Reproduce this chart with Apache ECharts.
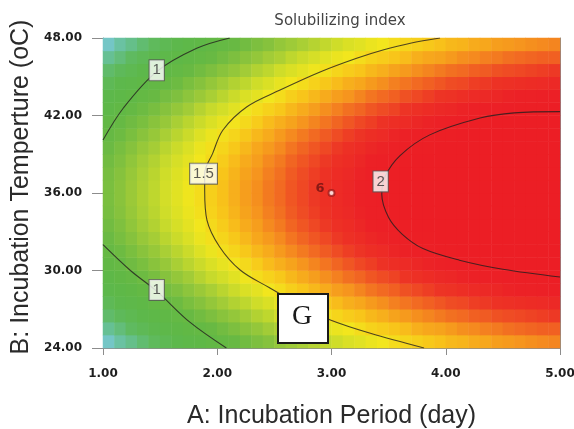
<!DOCTYPE html>
<html>
<head>
<meta charset="utf-8">
<style>
  html, body { margin: 0; padding: 0; background: #fff; }
  #chart { width: 574px; height: 429px; }
</style>
<script src="https://cdn.jsdelivr.net/npm/echarts@6/dist/echarts.min.js"></script>
</head>
<body>
<div id="chart"></div>
<script>
// surface cells: centres in A (day) and B (oC)
const periodCells = [1.05, 1.15, 1.25, 1.35, 1.45, 1.55, 1.65, 1.75, 1.85, 1.95,
                     2.05, 2.15, 2.25, 2.35, 2.45, 2.55, 2.65, 2.75, 2.85, 2.95,
                     3.05, 3.15, 3.25, 3.35, 3.45, 3.55, 3.65, 3.75, 3.85, 3.95,
                     4.05, 4.15, 4.25, 4.35, 4.45, 4.55, 4.65, 4.75, 4.85, 4.95];
const tempCells = [24.5, 25.5, 26.5, 27.5, 28.5, 29.5, 30.5, 31.5, 32.5, 33.5, 34.5, 35.5,
                   36.5, 37.5, 38.5, 39.5, 40.5, 41.5, 42.5, 43.5, 44.5, 45.5, 46.5, 47.5];

const surface = [
  [0.58,0.63,0.67,0.72,0.77,0.81,0.85,0.90,0.94,0.98,1.02,1.05,1.09,1.13,1.16,1.20,1.23,1.26,1.29,1.32,1.35,1.38,1.40,1.43,1.45,1.48,1.50,1.52,1.54,1.56,1.58,1.59,1.61,1.62,1.64,1.65,1.66,1.67,1.68,1.69],
  [0.65,0.70,0.75,0.80,0.84,0.89,0.93,0.97,1.01,1.05,1.09,1.13,1.17,1.20,1.24,1.27,1.31,1.34,1.37,1.40,1.43,1.45,1.48,1.51,1.53,1.55,1.57,1.60,1.62,1.63,1.65,1.67,1.68,1.70,1.71,1.73,1.74,1.75,1.76,1.76],
  [0.73,0.78,0.82,0.87,0.92,0.96,1.00,1.05,1.09,1.13,1.17,1.20,1.24,1.28,1.31,1.35,1.38,1.41,1.44,1.47,1.50,1.53,1.55,1.58,1.60,1.63,1.65,1.67,1.69,1.71,1.73,1.74,1.76,1.77,1.79,1.80,1.81,1.82,1.83,1.84],
  [0.80,0.85,0.89,0.94,0.99,1.03,1.07,1.12,1.16,1.20,1.24,1.28,1.31,1.35,1.38,1.42,1.45,1.48,1.51,1.54,1.57,1.60,1.62,1.65,1.67,1.70,1.72,1.74,1.76,1.78,1.80,1.81,1.83,1.84,1.86,1.87,1.88,1.89,1.90,1.91],
  [0.86,0.91,0.96,1.01,1.05,1.10,1.14,1.18,1.22,1.26,1.30,1.34,1.38,1.41,1.45,1.48,1.52,1.55,1.58,1.61,1.64,1.66,1.69,1.72,1.74,1.76,1.79,1.81,1.83,1.85,1.86,1.88,1.90,1.91,1.92,1.94,1.95,1.96,1.97,1.98],
  [0.92,0.97,1.02,1.07,1.11,1.16,1.20,1.24,1.29,1.33,1.36,1.40,1.44,1.48,1.51,1.54,1.58,1.61,1.64,1.67,1.70,1.73,1.75,1.78,1.80,1.82,1.85,1.87,1.89,1.91,1.92,1.94,1.96,1.97,1.99,2.00,2.01,2.02,2.03,2.04],
  [0.98,1.03,1.08,1.12,1.17,1.21,1.26,1.30,1.34,1.38,1.42,1.46,1.49,1.53,1.57,1.60,1.63,1.66,1.69,1.72,1.75,1.78,1.81,1.83,1.86,1.88,1.90,1.92,1.94,1.96,1.98,2.00,2.01,2.03,2.04,2.05,2.06,2.07,2.08,2.09],
  [1.03,1.07,1.12,1.17,1.21,1.26,1.30,1.34,1.39,1.43,1.47,1.50,1.54,1.58,1.61,1.65,1.68,1.71,1.74,1.77,1.80,1.83,1.85,1.88,1.90,1.93,1.95,1.97,1.99,2.01,2.03,2.04,2.06,2.07,2.09,2.10,2.11,2.12,2.13,2.14],
  [1.06,1.11,1.16,1.21,1.25,1.30,1.34,1.38,1.43,1.47,1.50,1.54,1.58,1.62,1.65,1.68,1.72,1.75,1.78,1.81,1.84,1.87,1.89,1.92,1.94,1.96,1.99,2.01,2.03,2.05,2.06,2.08,2.10,2.11,2.13,2.14,2.15,2.16,2.17,2.18],
  [1.09,1.14,1.19,1.24,1.28,1.33,1.37,1.41,1.45,1.49,1.53,1.57,1.61,1.64,1.68,1.71,1.75,1.78,1.81,1.84,1.87,1.89,1.92,1.95,1.97,1.99,2.02,2.04,2.06,2.08,2.09,2.11,2.13,2.14,2.15,2.17,2.18,2.19,2.20,2.21],
  [1.11,1.16,1.21,1.26,1.30,1.35,1.39,1.43,1.47,1.51,1.55,1.59,1.63,1.66,1.70,1.73,1.77,1.80,1.83,1.86,1.89,1.91,1.94,1.97,1.99,2.01,2.04,2.06,2.08,2.10,2.11,2.13,2.15,2.16,2.17,2.19,2.20,2.21,2.22,2.23],
  [1.12,1.17,1.22,1.27,1.31,1.36,1.40,1.44,1.48,1.52,1.56,1.60,1.64,1.67,1.71,1.74,1.78,1.81,1.84,1.87,1.90,1.92,1.95,1.98,2.00,2.02,2.05,2.07,2.09,2.11,2.12,2.14,2.16,2.17,2.18,2.20,2.21,2.22,2.23,2.24],
  [1.12,1.17,1.22,1.27,1.31,1.36,1.40,1.44,1.48,1.52,1.56,1.60,1.64,1.67,1.71,1.74,1.78,1.81,1.84,1.87,1.90,1.92,1.95,1.98,2.00,2.02,2.05,2.07,2.09,2.11,2.12,2.14,2.16,2.17,2.18,2.20,2.21,2.22,2.23,2.24],
  [1.11,1.16,1.21,1.26,1.30,1.35,1.39,1.43,1.47,1.51,1.55,1.59,1.63,1.66,1.70,1.73,1.77,1.80,1.83,1.86,1.89,1.91,1.94,1.97,1.99,2.01,2.04,2.06,2.08,2.10,2.11,2.13,2.15,2.16,2.17,2.19,2.20,2.21,2.22,2.23],
  [1.09,1.14,1.19,1.24,1.28,1.33,1.37,1.41,1.45,1.49,1.53,1.57,1.61,1.64,1.68,1.71,1.75,1.78,1.81,1.84,1.87,1.89,1.92,1.95,1.97,1.99,2.02,2.04,2.06,2.08,2.09,2.11,2.13,2.14,2.15,2.17,2.18,2.19,2.20,2.21],
  [1.06,1.11,1.16,1.21,1.25,1.30,1.34,1.38,1.43,1.47,1.50,1.54,1.58,1.62,1.65,1.68,1.72,1.75,1.78,1.81,1.84,1.87,1.89,1.92,1.94,1.96,1.99,2.01,2.03,2.05,2.06,2.08,2.10,2.11,2.13,2.14,2.15,2.16,2.17,2.18],
  [1.03,1.07,1.12,1.17,1.21,1.26,1.30,1.34,1.39,1.43,1.47,1.50,1.54,1.58,1.61,1.65,1.68,1.71,1.74,1.77,1.80,1.83,1.85,1.88,1.90,1.93,1.95,1.97,1.99,2.01,2.03,2.04,2.06,2.07,2.09,2.10,2.11,2.12,2.13,2.14],
  [0.98,1.03,1.08,1.12,1.17,1.21,1.26,1.30,1.34,1.38,1.42,1.46,1.49,1.53,1.57,1.60,1.63,1.66,1.69,1.72,1.75,1.78,1.81,1.83,1.86,1.88,1.90,1.92,1.94,1.96,1.98,2.00,2.01,2.03,2.04,2.05,2.06,2.07,2.08,2.09],
  [0.92,0.97,1.02,1.07,1.11,1.16,1.20,1.24,1.29,1.33,1.36,1.40,1.44,1.48,1.51,1.54,1.58,1.61,1.64,1.67,1.70,1.73,1.75,1.78,1.80,1.82,1.85,1.87,1.89,1.91,1.92,1.94,1.96,1.97,1.99,2.00,2.01,2.02,2.03,2.04],
  [0.86,0.91,0.96,1.01,1.05,1.10,1.14,1.18,1.22,1.26,1.30,1.34,1.38,1.41,1.45,1.48,1.52,1.55,1.58,1.61,1.64,1.66,1.69,1.72,1.74,1.76,1.79,1.81,1.83,1.85,1.86,1.88,1.90,1.91,1.92,1.94,1.95,1.96,1.97,1.98],
  [0.80,0.85,0.89,0.94,0.99,1.03,1.07,1.12,1.16,1.20,1.24,1.28,1.31,1.35,1.38,1.42,1.45,1.48,1.51,1.54,1.57,1.60,1.62,1.65,1.67,1.70,1.72,1.74,1.76,1.78,1.80,1.81,1.83,1.84,1.86,1.87,1.88,1.89,1.90,1.91],
  [0.73,0.78,0.82,0.87,0.92,0.96,1.00,1.05,1.09,1.13,1.17,1.20,1.24,1.28,1.31,1.35,1.38,1.41,1.44,1.47,1.50,1.53,1.55,1.58,1.60,1.63,1.65,1.67,1.69,1.71,1.73,1.74,1.76,1.77,1.79,1.80,1.81,1.82,1.83,1.84],
  [0.65,0.70,0.75,0.80,0.84,0.89,0.93,0.97,1.01,1.05,1.09,1.13,1.17,1.20,1.24,1.27,1.31,1.34,1.37,1.40,1.43,1.45,1.48,1.51,1.53,1.55,1.57,1.60,1.62,1.63,1.65,1.67,1.68,1.70,1.71,1.73,1.74,1.75,1.76,1.76],
  [0.58,0.63,0.67,0.72,0.77,0.81,0.85,0.90,0.94,0.98,1.02,1.05,1.09,1.13,1.16,1.20,1.23,1.26,1.29,1.32,1.35,1.38,1.40,1.43,1.45,1.48,1.50,1.52,1.54,1.56,1.58,1.59,1.61,1.62,1.64,1.65,1.66,1.67,1.68,1.69]
];

// contour lines, [A, B] points
const contourOneUpper = [[1.0, 40.1], [1.18, 42.6], [1.47, 45.4], [1.82, 47.2], [2.11, 48.0]];
const contourOneLower = [[1.0, 32.0], [1.24, 30.0], [1.47, 28.4], [1.76, 26.0], [2.08, 24.0]];
const contourOneFive = [
  [3.95, 48.0], [3.69, 47.6], [3.45, 47.07], [3.22, 46.43], [2.9, 45.37], [2.55, 43.97],
  [2.26, 42.68], [2.05, 40.88], [1.96, 39.07], [1.89, 37.5], [1.89, 36.2], [1.91, 33.9],
  [2.02, 31.84], [2.2, 30.04], [2.45, 28.7], [2.75, 27.2], [2.99, 26.17], [3.34, 25.14], [3.81, 24.0]
];
const contourTwo = [
  [5.0, 42.3], [4.6, 42.2], [4.3, 41.8], [3.86, 40.5], [3.6, 38.9], [3.47, 37.3], [3.44, 35.9],
  [3.5, 34.1], [3.62, 32.8], [3.8, 31.7], [4.12, 30.8], [4.5, 30.1], [5.0, 29.5]
];
const contourLabels = [[1.47, 45.5, '1'], [1.47, 28.5, '1'], [1.88, 37.5, '1.5'], [3.43, 36.9, '2']];
const designPoints = [[3.0, 36.0, 6]];

const periodTicks = [1, 5, 1];   // min, max, step
const tempTicks = [24, 48, 6];

const heatData = [];
surface.forEach((row, i) => row.forEach((v, j) => heatData.push([j, i, v])));

const contourLine = (data) => ({
  type: 'line',
  xAxisIndex: 1,
  yAxisIndex: 1,
  data: data,
  smooth: 0.35,
  symbol: 'none',
  silent: true,
  lineStyle: { color: 'rgba(35,30,30,0.8)', width: 1.1 },
  z: 3
});

const tickLabel = { fontFamily: 'DejaVu Sans', fontWeight: 'bold', fontSize: 12, color: '#1e1e1e' };
const frame = { show: true, lineStyle: { color: '#8c8c8c', width: 1 } };

const chart = echarts.init(document.getElementById('chart'), null, { renderer: 'canvas' });
chart.setOption({
  animation: false,
  backgroundColor: '#fff',
  title: {
    text: 'Solubilizing index',
    left: 335,
    top: 9,
    textAlign: 'center',
    textStyle: { fontFamily: 'DejaVu Sans', fontSize: 15, fontWeight: 'normal', color: '#444' }
  },
  grid: { left: 103, right: 14, top: 38, bottom: 81, outerBoundsMode: 'none' },
  visualMap: {
    show: false,
    type: 'continuous',
    seriesIndex: 0,
    dimension: 2,
    min: 0.55,
    max: 2.05,
    inRange: {
      color: ['#7ac8dc', '#66c094', '#5fba60', '#5db84c', '#5fb846', '#68b943', '#82c13e', '#a5cd36',
              '#cfdd29', '#f2e61d', '#f8c51a', '#f69a1d', '#f16522', '#ed3425', '#ec2126', '#ec1e25']
    }
  },
  xAxis: [
    { type: 'category', data: periodCells, show: false },
    {
      type: 'value', position: 'bottom',
      min: periodTicks[0], max: periodTicks[1], interval: periodTicks[2],
      axisLine: frame,
      axisTick: { show: true, length: 7, lineStyle: { color: '#8c8c8c' } },
      axisLabel: Object.assign({ margin: 20, formatter: (v) => v.toFixed(2) }, tickLabel),
      splitLine: { show: false },
      name: 'A: Incubation Period (day)',
      nameLocation: 'middle',
      nameGap: 56,
      nameTextStyle: { fontFamily: 'Liberation Sans', fontSize: 25, color: '#2a2a2a' }
    },
    {
      type: 'value', position: 'top',
      min: periodTicks[0], max: periodTicks[1],
      axisLine: frame, axisTick: { show: false }, axisLabel: { show: false }, splitLine: { show: false }
    }
  ],
  yAxis: [
    { type: 'category', data: tempCells, show: false },
    {
      type: 'value', position: 'left',
      min: tempTicks[0], max: tempTicks[1], interval: tempTicks[2],
      axisLine: frame,
      axisTick: { show: true, length: 11, lineStyle: { color: '#8c8c8c' } },
      axisLabel: Object.assign({ margin: 21, formatter: (v) => v.toFixed(2) }, tickLabel),
      splitLine: { show: false },
      name: 'B: Incubation Temperture (oC)',
      nameLocation: 'middle',
      nameGap: 69,
      nameTextStyle: { fontFamily: 'Liberation Sans', fontSize: 25, color: '#2a2a2a', padding: [0, 0, 0, 12] }
    },
    {
      type: 'value', position: 'right',
      min: tempTicks[0], max: tempTicks[1],
      axisLine: frame, axisTick: { show: false }, axisLabel: { show: false }, splitLine: { show: false }
    }
  ],
  series: [
    {
      type: 'heatmap',
      xAxisIndex: 0,
      yAxisIndex: 0,
      data: heatData,
      silent: true,
      z: 1
    },
    contourLine(contourOneUpper),
    contourLine(contourOneLower),
    contourLine(contourOneFive),
    contourLine(contourTwo),
    {
      type: 'scatter',
      xAxisIndex: 1,
      yAxisIndex: 1,
      data: contourLabels,
      symbol: 'rect',
      symbolSize: 1,
      itemStyle: { color: 'rgba(0,0,0,0)' },
      silent: true,
      z: 5,
      label: {
        show: true,
        position: 'inside',
        formatter: (p) => p.value[2],
        fontFamily: 'Liberation Sans',
        fontSize: 15,
        color: '#333',
        backgroundColor: '#fff',
        borderColor: '#555',
        borderWidth: 1,
        padding: [3, 3, 2, 3]
      }
    },
    {
      type: 'scatter',
      xAxisIndex: 1,
      yAxisIndex: 1,
      data: designPoints,
      symbol: 'emptyCircle',
      symbolSize: 6,
      itemStyle: { color: '#a11a1a', borderColor: '#a11a1a', borderWidth: 1 },
      silent: true,
      z: 5,
      label: {
        show: true,
        position: 'left',
        distance: 3,
        offset: [0, -4],
        formatter: (p) => p.value[2],
        fontFamily: 'DejaVu Sans',
        fontWeight: 'bold',
        fontSize: 13,
        color: '#6e1212'
      }
    }
  ],
  graphic: [
    {
      type: 'rect',
      left: 277,
      top: 293,
      z: 100,
      shape: { width: 50, height: 49 },
      style: { fill: '#fff', stroke: '#1a1a1a', lineWidth: 2 }
    },
    {
      type: 'text',
      left: 292,
      top: 303,
      z: 101,
      style: { text: 'G', font: '28px "Liberation Serif"', fill: '#1a1a1a' }
    }
  ]
});
</script>
</body>
</html>
